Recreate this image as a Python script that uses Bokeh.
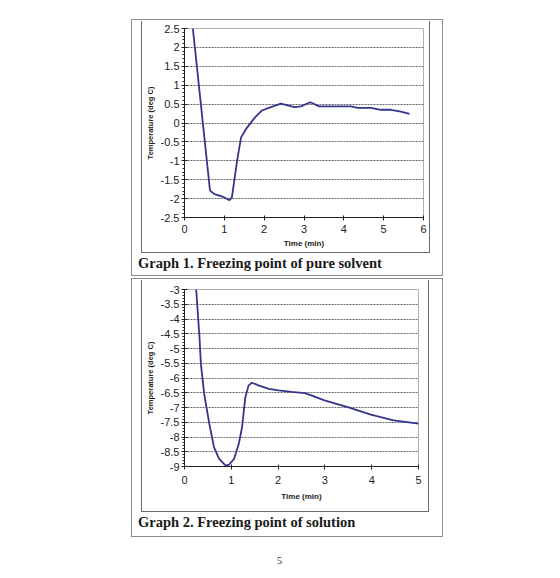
from bokeh.plotting import figure
from bokeh.models import SingleIntervalTicker, CustomJSTickFormatter, Spacer, Div
from bokeh.layouts import column, row
from bokeh.embed import file_html
from bokeh.resources import INLINE

# Graph 1: pure solvent cooling curve (time in min, temperature in deg C)
solvent_time = [0.21, 0.64, 0.75, 0.96, 1.13, 1.19, 1.32, 1.42, 1.55, 1.77, 1.94,
                2.17, 2.42, 2.76, 2.92, 3.16, 3.38, 3.84, 4.18, 4.35, 4.68, 4.93,
                5.18, 5.43, 5.65]
solvent_temp = [2.5, -1.79, -1.88, -1.95, -2.04, -1.97, -1.0, -0.38, -0.15, 0.15, 0.33,
                0.42, 0.51, 0.42, 0.44, 0.55, 0.44, 0.44, 0.44, 0.40, 0.40, 0.35,
                0.35, 0.30, 0.24]

# Graph 2: solution cooling curve
solution_time = [0.25, 0.32, 0.35, 0.42, 0.53, 0.63, 0.74, 0.88, 0.95, 1.06, 1.16,
                 1.23, 1.30, 1.37, 1.44, 1.58, 1.80, 2.01, 2.29, 2.57, 2.71, 2.99,
                 3.49, 3.98, 4.47, 5.0]
solution_temp = [-3.0, -4.62, -5.52, -6.54, -7.55, -8.34, -8.74, -8.97, -8.94, -8.74, -8.23,
                 -7.67, -6.65, -6.25, -6.16, -6.25, -6.37, -6.42, -6.47, -6.51, -6.59, -6.76,
                 -6.99, -7.24, -7.44, -7.55]

captions = ["Graph 1. Freezing point of pure solvent",
            "Graph 2. Freezing point of solution"]
x_label = "Time (min)"
y_label = "Temperature (deg C)"

LINE = "#35358a"
SANS = "Liberation Sans"
SERIF = "Liberation Serif"
INK = "#222222"

# plain hyphen-minus tick labels, e.g. "-2.5"
plain_ticks = CustomJSTickFormatter(code="return (Math.round(tick * 100) / 100).toString();")

# thin gray border on left, right and bottom of the chart area
chart_area_border = {"box-shadow": "-1px 0 0 #6a6a6a, 1px 0 0 #6a6a6a, 0 1px 0 #6a6a6a, "
                                   "-1px 1px 0 #6a6a6a, 1px 1px 0 #6a6a6a"}
block_border = {"outline": "1.5px solid #8c8c8c", "outline-offset": "-1.5px"}


def chart(t, temp, x_end, y_lo, y_hi, width, height, mb, tick_standoff, label_standoff):
    p = figure(width=width, height=height, x_range=(0, x_end), y_range=(y_lo, y_hi),
               output_backend="svg", toolbar_location=None,
               min_border_left=mb[0], min_border_right=mb[1],
               min_border_top=mb[2], min_border_bottom=mb[3],
               background_fill_color="white", border_fill_color="white",
               styles=chart_area_border)
    p.outline_line_color = "#b0b0b0"
    p.outline_line_width = 1

    p.line(t, temp, line_color=LINE, line_width=1.8)

    p.xaxis.ticker = SingleIntervalTicker(interval=1, num_minor_ticks=0)
    p.yaxis.ticker = SingleIntervalTicker(interval=0.5, num_minor_ticks=5)
    for ax in (p.xaxis, p.yaxis):
        ax.formatter = plain_ticks
        ax.axis_line_color = INK
        ax.major_tick_line_color = INK
        ax.minor_tick_line_color = INK
        ax.major_label_text_font = SANS
        ax.major_label_text_font_size = "11px"
        ax.major_label_text_color = INK
        ax.axis_label_text_font = SANS
        ax.axis_label_text_font_style = "bold"
        ax.axis_label_text_color = INK
    p.xaxis.major_tick_in = 2
    p.xaxis.major_tick_out = 3
    p.yaxis.major_tick_in = 3
    p.yaxis.major_tick_out = 3
    p.yaxis.minor_tick_in = 0
    p.yaxis.minor_tick_out = 2
    p.xaxis.axis_label = x_label
    p.yaxis.axis_label = y_label
    p.xaxis.axis_label_text_font_size = "8px"
    p.yaxis.axis_label_text_font_size = "7.5px"
    p.xaxis.major_label_standoff = tick_standoff
    p.yaxis.major_label_standoff = 2
    p.xaxis.axis_label_standoff = label_standoff
    p.yaxis.axis_label_standoff = 3

    p.xgrid.visible = False
    p.ygrid.grid_line_color = "#666666"
    p.ygrid.grid_line_dash = "2 1"
    p.ygrid.grid_line_width = 1
    return p


def caption_div(text):
    return Div(text=text, width=305, height=22, margin=0,
               styles={"font-family": SERIF, "font-weight": "bold", "font-size": "14.5px",
                       "line-height": "22px", "color": "#1a1a1a", "white-space": "nowrap"})


def block(p, caption, top_gap, chart_width, bottom_gap):
    return column(
        Spacer(width=312, height=top_gap),
        row(Spacer(width=11, height=1), p, Spacer(width=312 - 11 - chart_width, height=1)),
        row(Spacer(width=7, height=22), caption_div(caption)),
        Spacer(width=312, height=bottom_gap),
        styles=block_border,
    )


p1 = chart(solvent_time, solvent_temp, 6, -2.5, 2.5, 287, 231, (41, 6, 7, 35), 4, 3)
p2 = chart(solution_time, solution_temp, 5, -9, -3, 286, 231, (40, 10, 9, 45), 6, 5)

b1 = block(p1, captions[0], 2, 287, 2)
b2 = block(p2, captions[1], 2, 286, 4)

page_no = Div(text="5", width=20, height=14, margin=0,
              styles={"font-family": SERIF, "font-size": "10px", "color": "#333"})

layout = column(
    Spacer(height=19),
    row(Spacer(width=131), column(b1, Spacer(height=2), b2)),
    Spacer(height=17),
    row(Spacer(width=277), page_no),
)

open("out.html", "w").write(file_html(layout, INLINE))
